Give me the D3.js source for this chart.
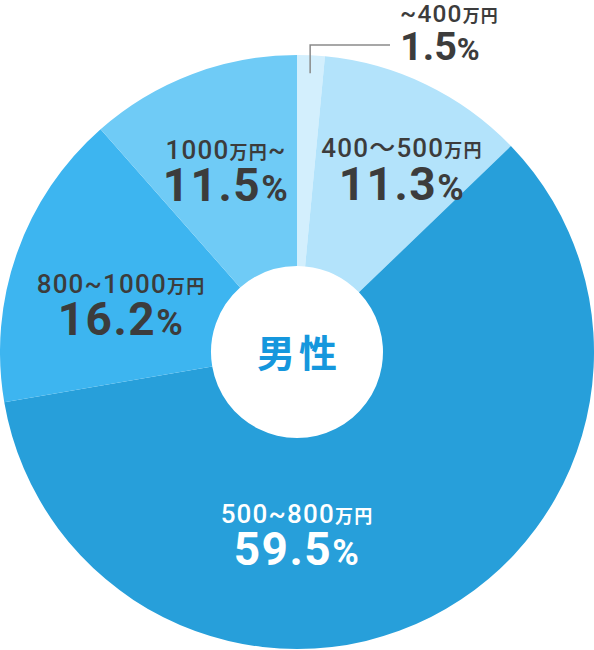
<!DOCTYPE html>
<html>
<head>
<meta charset="utf-8">
<script src="https://cdn.jsdelivr.net/npm/d3@7"></script>
<style>
    html, body { margin: 0; padding: 0; background: #ffffff; }
    svg { display: block; }
</style>
</head>
<body>
<div id="chart"></div>
<script>
// data
const categories = ["~400万円", "400～500万円", "500~800万円", "800~1000万円", "1000万円~"];
const shares = [1.5, 11.3, 59.5, 16.2, 11.5];
const sliceColors = ["#d3effd", "#b3e3fb", "#279fda", "#3db5f0", "#6fcbf6"];
const labelColors = ["#3c3c3c", "#3c3c3c", "#ffffff", "#3c3c3c", "#3c3c3c"];
const centerTitle = "男性";

const width = 594;
const height = 650;
const cx = 297, cy = 352;
const outerR = 297, innerR = 86;

// label anchor per slice: x, anchor, baselines, size factor for category (k1) and percent (k2)
const labelLayout = [
    { x: 400, anchor: "start", y1: 22, y2: 60, k1: 0.94, k2: 0.86 },
    { x: 402, anchor: "middle", y1: 157, y2: 200, k1: 1, k2: 1 },
    { x: 297, anchor: "middle", y1: 523, y2: 565, k1: 1, k2: 1 },
    { x: 121, anchor: "middle", y1: 293, y2: 335, k1: 1, k2: 1 },
    { x: 226, anchor: "middle", y1: 159, y2: 201, k1: 1, k2: 1 }
];

const svg = d3.select("#chart")
    .append("svg")
    .attr("width", width)
    .attr("height", height);

const g = svg.append("g").attr("transform", `translate(${cx},${cy})`);

const pie = d3.pie().sort(null).value(d => d);
const arcs = pie(shares);

const arc = d3.arc().innerRadius(innerR).outerRadius(outerR);

g.selectAll("path.slice")
    .data(arcs)
    .enter()
    .append("path")
    .attr("class", "slice")
    .attr("d", arc)
    .attr("fill", (d, i) => sliceColors[i]);

// leader line for the thin first slice
const leaderArc = d3.arc().innerRadius(279).outerRadius(279);
const start = leaderArc.centroid(arcs[0]);
const p0 = [cx + start[0], cy + start[1]];
svg.append("polyline")
    .attr("points", [p0, [p0[0], 45], [390, 45]].map(p => p.join(",")).join(" "))
    .attr("fill", "none")
    .attr("stroke", "#8a8a8a")
    .attr("stroke-width", 1.5);

// center title
svg.append("text")
    .attr("x", cx + 2)
    .attr("y", cy + 15)
    .attr("text-anchor", "middle")
    .attr("font-family", "'Noto Sans CJK JP', sans-serif")
    .attr("font-weight", 700)
    .attr("font-size", 38)
    .attr("letter-spacing", 4)
    .attr("fill", "#1597dd")
    .text(centerTitle);

const numFont = "Roboto, 'Noto Sans CJK JP', sans-serif";

categories.forEach((cat, i) => {
    const L = labelLayout[i];

    const t1 = svg.append("text")
        .attr("x", L.x)
        .attr("y", L.y1)
        .attr("text-anchor", L.anchor)
        .attr("font-family", numFont)
        .attr("font-weight", 500)
        .attr("letter-spacing", 1.2)
        .attr("fill", labelColors[i]);
    cat.split(/(万円)/).filter(s => s.length).forEach(part => {
        t1.append("tspan")
            .attr("font-size", (part === "万円" ? 18 : 26) * L.k1)
            .attr("font-weight", part === "万円" ? 700 : 500)
            .text(part);
    });

    const t2 = svg.append("text")
        .attr("x", L.x)
        .attr("y", L.y2)
        .attr("text-anchor", L.anchor)
        .attr("font-family", numFont)
        .attr("font-weight", 700)
        .attr("letter-spacing", L.k2 < 1 ? 0 : 1.5)
        .attr("fill", labelColors[i]);
    t2.append("tspan").attr("font-size", 46 * L.k2).text(shares[i].toFixed(1));
    t2.append("tspan").attr("font-size", 36 * L.k2).text("%");
});
</script>
</body>
</html>
